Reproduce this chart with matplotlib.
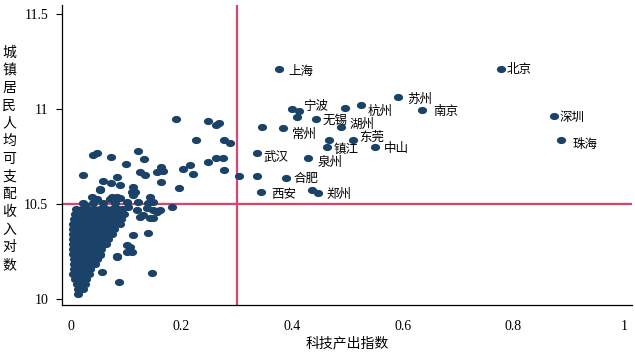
import numpy as np
import matplotlib
matplotlib.use("Agg")
import matplotlib.pyplot as plt
from matplotlib.path import Path

plt.rcParams['font.family'] = ['Noto Sans CJK SC', 'DejaVu Sans']

# labelled cities
cities = ['上海', '北京', '苏州', '南京', '深圳', '珠海', '宁波', '无锡', '杭州', '湖州',
          '常州', '东莞', '镇江', '中山', '武汉', '泉州', '合肥', '西安', '郑州']
city_x = [0.377, 0.777, 0.592, 0.634, 0.873, 0.886, 0.400, 0.443, 0.524, 0.488,
          0.384, 0.510, 0.463, 0.550, 0.336, 0.429, 0.389, 0.344, 0.446]
city_y = [11.210, 11.210, 11.063, 10.995, 10.963, 10.837, 11.000, 10.947, 11.021, 10.905,
          10.900, 10.837, 10.800, 10.800, 10.768, 10.742, 10.637, 10.563, 10.558]

# other cities, scattered part
other_x = [0.190, 0.248, 0.262, 0.268, 0.226, 0.277, 0.288, 0.040, 0.047, 0.072,
           0.121, 0.132, 0.099, 0.248, 0.262, 0.275, 0.215, 0.203, 0.221, 0.277,
           0.304, 0.336, 0.163, 0.166, 0.156, 0.125, 0.134, 0.022, 0.058, 0.083,
           0.072, 0.089, 0.163, 0.112, 0.116, 0.052, 0.195, 0.143, 0.112, 0.038,
           0.047, 0.071, 0.083, 0.022, 0.139, 0.148, 0.183, 0.161, 0.148, 0.125,
           0.143, 0.148, 0.112, 0.139, 0.107, 0.101, 0.083, 0.052, 0.056, 0.146,
           0.087, 0.013, 0.345, 0.409, 0.412, 0.495, 0.467, 0.436, 0.052, 0.074,
           0.089, 0.110, 0.025, 0.040, 0.058, 0.080, 0.101, 0.121, 0.119, 0.130,
           0.156, 0.137, 0.103, 0.101, 0.110, 0.083]
other_y = [10.947, 10.937, 10.916, 10.926, 10.837, 10.837, 10.821, 10.758, 10.768, 10.747,
           10.779, 10.737, 10.711, 10.721, 10.742, 10.742, 10.705, 10.684, 10.658, 10.679,
           10.647, 10.647, 10.695, 10.674, 10.668, 10.668, 10.653, 10.653, 10.621, 10.642,
           10.611, 10.600, 10.616, 10.589, 10.563, 10.579, 10.584, 10.537, 10.547, 10.537,
           10.526, 10.526, 10.537, 10.505, 10.505, 10.511, 10.484, 10.468, 10.468, 10.432,
           10.426, 10.426, 10.337, 10.347, 10.274, 10.247, 10.226, 10.232, 10.142, 10.137,
           10.089, 10.026, 10.905, 10.958, 10.989, 11.005, 10.837, 10.574, 10.574, 10.537,
           10.532, 10.563, 10.495, 10.505, 10.505, 10.505, 10.511, 10.511, 10.468, 10.442,
           10.458, 10.479, 10.484, 10.284, 10.247, 10.221]

# dense cluster near the origin, read row by row
cluster_rows = {
    10.474: [0.009, 0.020, 0.031, 0.042, 0.052, 0.063, 0.074, 0.085, 0.092],
    10.447: [0.007, 0.018, 0.029, 0.040, 0.051, 0.062, 0.072, 0.083, 0.096],
    10.421: [0.005, 0.016, 0.027, 0.038, 0.049, 0.060, 0.071, 0.082, 0.090],
    10.395: [0.004, 0.015, 0.026, 0.037, 0.048, 0.059, 0.070, 0.080, 0.088],
    10.368: [0.003, 0.014, 0.025, 0.036, 0.047, 0.058, 0.069, 0.078],
    10.342: [0.003, 0.014, 0.025, 0.036, 0.047, 0.058, 0.068, 0.075],
    10.316: [0.003, 0.013, 0.024, 0.035, 0.046, 0.057, 0.066],
    10.289: [0.003, 0.013, 0.024, 0.035, 0.046, 0.056, 0.064],
    10.263: [0.004, 0.014, 0.025, 0.036, 0.047, 0.055],
    10.237: [0.004, 0.015, 0.026, 0.037, 0.046, 0.052],
    10.211: [0.005, 0.016, 0.027, 0.038, 0.047],
    10.184: [0.005, 0.016, 0.027, 0.036, 0.043],
    10.158: [0.006, 0.017, 0.028, 0.034],
    10.132: [0.004, 0.014, 0.025, 0.032],
    10.105: [0.008, 0.018, 0.027],
    10.079: [0.010, 0.020, 0.026],
    10.053: [0.012, 0.022],
}

# label offsets in points (dx, dy)
label_offsets = [(6.5, -2), (4.5, 0), (6.5, -1.5), (8.5, -1.5), (4.5, -1), (8, -3),
                 (8, 1.5), (4.5, -1), (5, -4.5), (6.5, 2), (6.5, -4.5), (4.5, 2),
                 (4.5, -2), (6, -1), (5, -3), (6.5, -3), (5, 0), (7, -1.5), (6.5, -1)]

dot_color = '#1b4369'
red = '#d9466c'

theta = np.linspace(0, 2 * np.pi, 40)
ellipse = Path(np.column_stack([0.5 * np.cos(theta), 0.39 * np.sin(theta)]), closed=True)

fig = plt.figure(figsize=(6.35, 3.53), dpi=100)
ax = fig.add_axes([62 / 635, 1 - 305 / 353, 570 / 635, 300 / 353])

cx = []
cy = []
for yv, xs in cluster_rows.items():
    for xv in xs:
        cx.append(xv)
        cy.append(yv)

ax.axhline(10.5, color=red, lw=1.6, zorder=1)
ax.axvline(0.3, color=red, lw=1.6, zorder=1)

ax.scatter(cx, cy, s=44, marker=ellipse, color=dot_color, linewidths=0, zorder=3)
ax.scatter(other_x, other_y, s=44, marker=ellipse, color=dot_color, linewidths=0, zorder=3)
ax.scatter(city_x, city_y, s=44, marker=ellipse, color=dot_color, linewidths=0, zorder=3)

for name, x, y, off in zip(cities, city_x, city_y, label_offsets):
    ax.annotate(name, (x, y), xytext=off, textcoords='offset points',
                ha='left', va='center', fontsize=9, color='black', zorder=4)

ax.set_xlim(-0.0163, 1.0145)
ax.set_ylim(9.968, 11.547)
ax.set_xticks([0, 0.2, 0.4, 0.6, 0.8, 1])
ax.set_xticklabels(['0', '0.2', '0.4', '0.6', '0.8', '1'])
ax.set_yticks([10, 10.5, 11, 11.5])
ax.set_yticklabels(['10', '10.5', '11', '11.5'])
for lab in ax.get_xticklabels() + ax.get_yticklabels():
    lab.set_fontfamily('Liberation Serif')
    lab.set_fontsize(10)
ax.tick_params(axis='x', length=0, pad=11)
ax.tick_params(axis='y', length=4, width=0.8, pad=6)

for s in ['top', 'right']:
    ax.spines[s].set_visible(False)
for s in ['left', 'bottom']:
    ax.spines[s].set_linewidth(0.9)

fig.text(347 / 635, 1 - 343 / 353, '科技产出指数', ha='center', va='center', fontsize=10)
fig.text(9 / 635, 1 - 159 / 353, '\n'.join('城镇居民人均可支配收入对数'),
         ha='center', va='center', fontsize=10, linespacing=1.33)

fig.savefig('out.png', dpi=100)
